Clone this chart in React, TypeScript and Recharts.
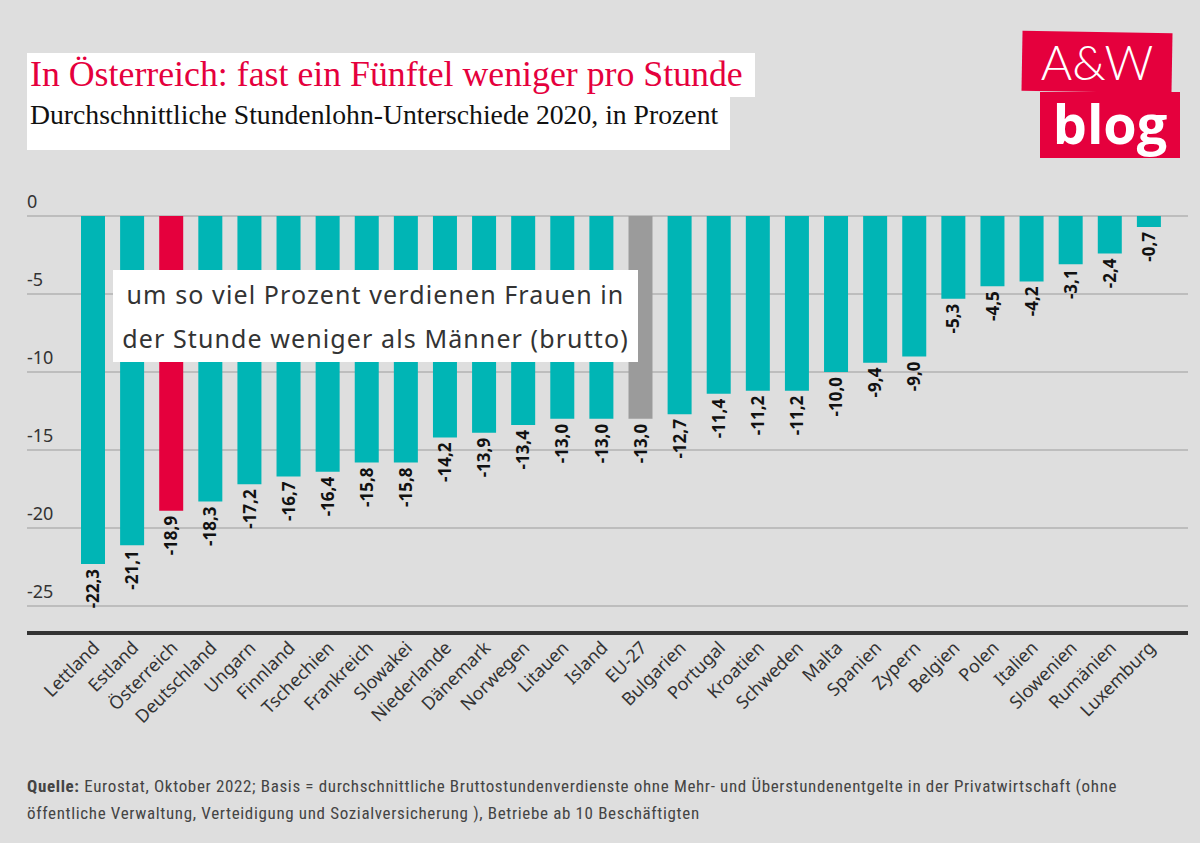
import React from "react";
import { BarChart, Bar, XAxis, YAxis, CartesianGrid, Cell, LabelList } from "recharts";

const countries = [
  "Lettland", "Estland", "Österreich", "Deutschland", "Ungarn", "Finnland", "Tschechien",
  "Frankreich", "Slowakei", "Niederlande", "Dänemark", "Norwegen", "Litauen", "Island",
  "EU-27", "Bulgarien", "Portugal", "Kroatien", "Schweden", "Malta", "Spanien", "Zypern",
  "Belgien", "Polen", "Italien", "Slowenien", "Rumänien", "Luxemburg",
];
const gaps = [
  -22.3, -21.1, -18.9, -18.3, -17.2, -16.7, -16.4, -15.8, -15.8, -14.2, -13.9, -13.4, -13.0,
  -13.0, -13.0, -12.7, -11.4, -11.2, -11.2, -10.0, -9.4, -9.0, -5.3, -4.5, -4.2, -3.1, -2.4, -0.7,
];
const yTicks = [0, -5, -10, -15, -20, -25];

const TEAL = "#00b5b5";
const RED = "#e5003d";
const GREY = "#9b9b9b";
const FONT = "'Noto Sans', 'Open Sans', sans-serif";

const data = countries.map((name, i) => ({ name, value: gaps[i] }));

const barColor = (name: string) =>
  name === "Österreich" ? RED : name === "EU-27" ? GREY : TEAL;

const fmt = (v: number) => v.toFixed(1).replace(".", ",");

const YTick = (props: any) => {
  const { y, payload } = props;
  return (
    <text x={27} y={y - 8} textAnchor="start" fontSize={18} fill="#333" fontFamily={FONT}>
      {payload.value}
    </text>
  );
};

const XTick = (props: any) => {
  const { x, y, payload } = props;
  return (
    <text
      x={x + 8}
      y={y + 8}
      transform={`rotate(-45, ${x + 8}, ${y + 8})`}
      textAnchor="end"
      fontSize={18}
      fill="#333"
      fontFamily={FONT}
    >
      {payload.value}
    </text>
  );
};

const ValueLabel = (props: any) => {
  const { x, y, width, height, value } = props;
  const cx = x + width / 2;
  const bottom = Math.max(y, y + height) + 5;
  return (
    <text
      x={cx}
      y={bottom}
      dy="0.36em"
      transform={`rotate(-90, ${cx}, ${bottom})`}
      textAnchor="end"
      fontSize={17}
      fontWeight={700}
      fill="#111"
      fontFamily={FONT}
    >
      {fmt(value)}
    </text>
  );
};

export default function App() {
  return (
    <div
      style={{
        position: "absolute",
        left: 0,
        top: 0,
        width: 1200,
        height: 843,
        background: "#dedede",
        overflow: "hidden",
        fontFamily: FONT,
      }}
    >
      {/* title boxes */}
      <div style={{ position: "absolute", left: 27, top: 53, width: 728, height: 44, background: "#fff" }} />
      <div style={{ position: "absolute", left: 27, top: 97, width: 703, height: 53, background: "#fff" }} />
      <div
        style={{
          position: "absolute",
          left: 30,
          top: 54,
          fontFamily: "'Liberation Serif', serif",
          fontSize: 35.8,
          color: RED,
          whiteSpace: "nowrap",
          lineHeight: "40px",
        }}
      >
        In Österreich: fast ein Fünftel weniger pro Stunde
      </div>
      <div
        style={{
          position: "absolute",
          left: 30,
          top: 99,
          fontFamily: "'Liberation Serif', serif",
          fontSize: 27.7,
          color: "#111",
          whiteSpace: "nowrap",
          lineHeight: "32px",
        }}
      >
        Durchschnittliche Stundenlohn-Unterschiede 2020, in Prozent
      </div>

      {/* logo */}
      <div
        style={{
          position: "absolute",
          left: 1022,
          top: 32,
          width: 150,
          height: 60,
          background: RED,
          transform: "rotate(1deg)",
        }}
      />
      <div
        style={{
          position: "absolute",
          left: 1040,
          top: 92,
          width: 140,
          height: 66,
          background: RED,
        }}
      />
      <div
        style={{
          position: "absolute",
          left: 1022,
          top: 37,
          width: 150,
          color: "#fff",
          fontFamily: "Lato, sans-serif",
          fontWeight: 300,
          fontSize: 48,
          lineHeight: "50px",
          textAlign: "center",
        }}
      >
        A&amp;W
      </div>
      <div
        style={{
          position: "absolute",
          left: 1040,
          top: 96,
          width: 140,
          color: "#fff",
          fontFamily: "'Open Sans', sans-serif",
          fontWeight: 700,
          fontSize: 54,
          lineHeight: "54px",
          textAlign: "center",
        }}
      >
        blog
      </div>

      <div style={{ position: "absolute", left: 0, top: 0 }}>
        <BarChart
          width={1200}
          height={843}
          data={data}
          margin={{ top: 216, right: 12, bottom: 0, left: 0 }}
        >
          <CartesianGrid vertical={false} stroke="#bdbdbd" strokeWidth={2} />
          <YAxis
            domain={[-26.73, 0]}
            ticks={yTicks}
            width={27}
            axisLine={false}
            tickLine={false}
            tick={<YTick />}
            allowDataOverflow
          />
          <XAxis
            dataKey="name"
            interval={0}
            padding={{ left: 46, right: 20 }}
            axisLine={{ stroke: "#333", strokeWidth: 4 }}
            tickLine={false}
            tick={<XTick />}
            height={210}
          />
          <Bar dataKey="value" barSize={24} isAnimationActive={false}>
            {data.map((d) => (
              <Cell key={d.name} fill={barColor(d.name)} />
            ))}
            <LabelList dataKey="value" content={<ValueLabel />} />
          </Bar>
        </BarChart>
      </div>

      {/* annotation */}
      <div
        style={{
          position: "absolute",
          left: 113,
          top: 270,
          width: 525,
          height: 92,
          background: "#fff",
          color: "#333",
          fontSize: 25,
          letterSpacing: 1.1,
          lineHeight: "44px",
          textAlign: "center",
          paddingTop: 2,
          boxSizing: "border-box",
          whiteSpace: "nowrap",
        }}
      >
        um so viel Prozent verdienen Frauen in
        <br />
        der Stunde weniger als Männer (brutto)
      </div>

      {/* footer */}
      <div
        style={{
          position: "absolute",
          left: 27,
          top: 773,
          width: 1170,
          fontFamily: "'Liberation Sans Narrow', 'Roboto Condensed', sans-serif",
          fontSize: 17,
          letterSpacing: 0.65,
          lineHeight: "27px",
          color: "#444",
          whiteSpace: "nowrap",
        }}
      >
        <b>Quelle:</b> Eurostat, Oktober 2022; Basis = durchschnittliche Bruttostundenverdienste ohne Mehr- und
        Überstundenentgelte in der Privatwirtschaft (ohne
        <br />
        öffentliche Verwaltung, Verteidigung und Sozialversicherung ), Betriebe ab 10 Beschäftigten
      </div>
    </div>
  );
}
